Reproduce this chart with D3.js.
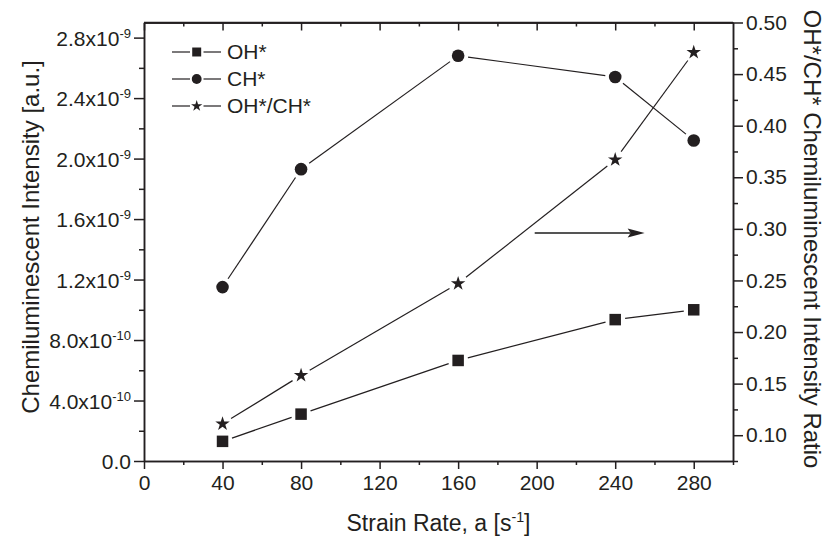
<!DOCTYPE html>
<html>
<head>
<meta charset="utf-8">
<script src="https://cdn.jsdelivr.net/npm/d3@7"></script>
<style>
  html, body { margin: 0; padding: 0; background: #fff; }
  svg { display: block; font-family: "Liberation Sans", Arial, sans-serif; }
</style>
</head>
<body>
<svg id="chart" width="829" height="549"></svg>
<script>
// Strain rate (s^-1) at which each flame was measured
const strainRates = [40, 80, 160, 240, 280];
// Chemiluminescent intensities (a.u.)
const ohIntensity = [0.13e-9, 0.31e-9, 0.665e-9, 0.935e-9, 1.0e-9];
const chIntensity = [1.15e-9, 1.93e-9, 2.68e-9, 2.54e-9, 2.12e-9];
// OH*/CH* intensity ratio (right axis)
const ohChRatio = [0.111, 0.158, 0.247, 0.367, 0.471];

// Axis ticks
const xMajorTicks = [0, 40, 80, 120, 160, 200, 240, 280];
const xMinorTicks = [20, 60, 100, 140, 180, 220, 260, 300];
const leftMajorTicks = [0, 0.4e-9, 0.8e-9, 1.2e-9, 1.6e-9, 2.0e-9, 2.4e-9, 2.8e-9];
const leftMantissa = ["0.0", "4.0", "8.0", "1.2", "1.6", "2.0", "2.4", "2.8"];
const leftExponent = ["", "-10", "-10", "-9", "-9", "-9", "-9", "-9"];
const leftMinorTicks = [0.2e-9, 0.6e-9, 1.0e-9, 1.4e-9, 1.8e-9, 2.2e-9, 2.6e-9];
const rightMajorTicks = [0.10, 0.15, 0.20, 0.25, 0.30, 0.35, 0.40, 0.45, 0.50];
const rightMinorTicks = [0.075, 0.125, 0.175, 0.225, 0.275, 0.325, 0.375, 0.425, 0.475];

// Legend entries
const seriesNames = ["OH*", "CH*", "OH*/CH*"];

// Arrow pointing toward the ratio axis (data units: strain rate, ratio)
const arrowFrom = [199, 0.296];
const arrowTo = [255, 0.296];

const ink = "#231f20";
const svg = d3.select("#chart");

const x = d3.scaleLinear().domain([0, 300]).range([144, 733]);
const yL = d3.scaleLinear().domain([0, 2.9e-9]).range([461, 22.5]);
const yR = d3.scaleLinear().domain([0.075, 0.50]).range([461, 22.5]);

const tickFont = 21;
const titleFont = 23;
const sideTitleFont = 24;

// ---- frame and axes ----
function styleAxis(g) {
  g.selectAll("path.domain").attr("stroke", ink).attr("stroke-width", 1.5);
  g.selectAll(".tick line").attr("stroke", ink).attr("stroke-width", 1.5);
  g.selectAll(".tick text").attr("fill", ink).attr("font-size", tickFont)
    .attr("font-family", "Liberation Sans, Arial, sans-serif");
}

// bottom
const gB = svg.append("g").attr("transform", `translate(0,${yL.range()[0]})`)
  .call(d3.axisBottom(x).tickValues(xMajorTicks).tickSize(8).tickSizeOuter(0).tickPadding(6).tickFormat(d3.format("d")));
styleAxis(gB);
const gBm = svg.append("g").attr("transform", `translate(0,${yL.range()[0]})`)
  .call(d3.axisBottom(x).tickValues(xMinorTicks).tickSize(4).tickSizeOuter(0).tickFormat(""));
styleAxis(gBm);

// top (inward ticks, no labels)
const gT = svg.append("g").attr("transform", `translate(0,${yL.range()[1]})`)
  .call(d3.axisBottom(x).tickValues(xMajorTicks).tickSize(8).tickSizeOuter(0).tickFormat(""));
styleAxis(gT);
const gTm = svg.append("g").attr("transform", `translate(0,${yL.range()[1]})`)
  .call(d3.axisBottom(x).tickValues(xMinorTicks.filter(d => d < 300)).tickSize(4).tickSizeOuter(0).tickFormat(""));
styleAxis(gTm);

// left
const gL = svg.append("g").attr("transform", `translate(${x.range()[0]},0)`)
  .call(d3.axisLeft(yL).tickValues(leftMajorTicks).tickSize(10).tickSizeOuter(0).tickPadding(4).tickFormat(""));
styleAxis(gL);
gL.selectAll(".tick").each(function(d, i) {
  const t = d3.select(this).append("text")
    .attr("x", -13).attr("dy", "0.36em")
    .attr("text-anchor", "end").attr("fill", ink).attr("font-size", tickFont);
  if (leftExponent[i] === "") {
    t.text(leftMantissa[i]);
  } else {
    t.append("tspan").text(leftMantissa[i] + "x10");
    t.append("tspan").attr("dy", -8).attr("font-size", tickFont * 0.62).text(leftExponent[i]);
  }
});
const gLm = svg.append("g").attr("transform", `translate(${x.range()[0]},0)`)
  .call(d3.axisLeft(yL).tickValues(leftMinorTicks).tickSize(5).tickSizeOuter(0).tickFormat(""));
styleAxis(gLm);

// right
const gR = svg.append("g").attr("transform", `translate(${x.range()[1]},0)`)
  .call(d3.axisRight(yR).tickValues(rightMajorTicks).tickSize(10).tickSizeOuter(0).tickPadding(3).tickFormat(d3.format(".2f")));
styleAxis(gR);
const gRm = svg.append("g").attr("transform", `translate(${x.range()[1]},0)`)
  .call(d3.axisRight(yR).tickValues(rightMinorTicks).tickSize(5).tickSizeOuter(0).tickFormat(""));
styleAxis(gRm);

// top border line spans the full frame
svg.append("line")
  .attr("x1", x.range()[0]).attr("x2", x.range()[1])
  .attr("y1", yL.range()[1]).attr("y2", yL.range()[1])
  .attr("stroke", ink).attr("stroke-width", 1.5);

// ---- axis titles ----
svg.append("text")
  .attr("transform", `translate(30,237) rotate(-90)`)
  .attr("text-anchor", "middle").attr("dominant-baseline", "central")
  .attr("font-size", sideTitleFont).attr("fill", ink)
  .text("Chemiluminescent Intensity [a.u.]");

svg.append("text")
  .attr("transform", `translate(812,239) rotate(90)`)
  .attr("text-anchor", "middle").attr("dominant-baseline", "central")
  .attr("font-size", sideTitleFont).attr("fill", ink)
  .text("OH*/CH* Chemiluminescent Intensity Ratio");

const xt = svg.append("text")
  .attr("x", (x.range()[0] + x.range()[1]) / 2).attr("y", 531)
  .attr("text-anchor", "middle").attr("font-size", titleFont).attr("fill", ink);
xt.append("tspan").text("Strain Rate, a [s");
xt.append("tspan").attr("dy", -9).attr("font-size", titleFont * 0.62).text("-1");
xt.append("tspan").attr("dy", 9).text("]");

// ---- series ----
const markerSize = { square: 11.5, circle: 6.3, star: 7.6 };

function drawMarker(g, type, cx, cy, scale) {
  const s = scale || 1;
  if (type === "square") {
    const a = markerSize.square * s;
    g.append("rect").attr("x", cx - a / 2).attr("y", cy - a / 2)
      .attr("width", a).attr("height", a).attr("fill", ink);
  } else if (type === "circle") {
    g.append("circle").attr("cx", cx).attr("cy", cy)
      .attr("r", markerSize.circle * s).attr("fill", ink);
  } else {
    const r = markerSize.star * s;
    const size = r * r / 0.8908130915292852;
    g.append("path").attr("transform", `translate(${cx},${cy})`)
      .attr("d", d3.symbol(d3.symbolStar, size)()).attr("fill", ink);
  }
}

// connecting lines stop a little short of each marker
function drawSeries(values, yScale, type, gap) {
  const g = svg.append("g");
  const pts = strainRates.map((d, i) => [x(d), yScale(values[i])]);
  for (let i = 0; i < pts.length - 1; i++) {
    const [x1, y1] = pts[i], [x2, y2] = pts[i + 1];
    const len = Math.hypot(x2 - x1, y2 - y1);
    const ux = (x2 - x1) / len, uy = (y2 - y1) / len;
    g.append("line")
      .attr("x1", x1 + ux * gap).attr("y1", y1 + uy * gap)
      .attr("x2", x2 - ux * gap).attr("y2", y2 - uy * gap)
      .attr("stroke", ink).attr("stroke-width", 1.2);
  }
  pts.forEach(p => drawMarker(g, type, p[0], p[1]));
}

drawSeries(ohIntensity, yL, "square", 10);
drawSeries(chIntensity, yL, "circle", 10);
drawSeries(ohChRatio, yR, "star", 10);

// ---- arrow ----
const ax1 = x(arrowFrom[0]), ax2 = x(arrowTo[0]), ay = yR(arrowFrom[1]);
svg.append("line").attr("x1", ax1).attr("x2", ax2 - 14).attr("y1", ay).attr("y2", ay)
  .attr("stroke", "#555").attr("stroke-width", 2);
svg.append("path")
  .attr("d", `M${ax2},${ay} L${ax2 - 17},${ay - 4.5} L${ax2 - 14},${ay} L${ax2 - 17},${ay + 4.5} Z`)
  .attr("fill", ink);

// ---- legend ----
const legendTypes = ["square", "circle", "star"];
const legendRowY = [52, 79, 106];
const lg = svg.append("g");
seriesNames.forEach((name, i) => {
  const cy = legendRowY[i];
  lg.append("line").attr("x1", 172).attr("x2", 190).attr("y1", cy).attr("y2", cy)
    .attr("stroke", ink).attr("stroke-width", 1.2);
  lg.append("line").attr("x1", 203.5).attr("x2", 221).attr("y1", cy).attr("y2", cy)
    .attr("stroke", ink).attr("stroke-width", 1.2);
  drawMarker(lg, legendTypes[i], 196.7, cy, 0.78);
  lg.append("text").attr("x", 227).attr("y", cy).attr("dy", "0.35em")
    .attr("font-size", 21).attr("fill", ink).text(name);
});
</script>
</body>
</html>
